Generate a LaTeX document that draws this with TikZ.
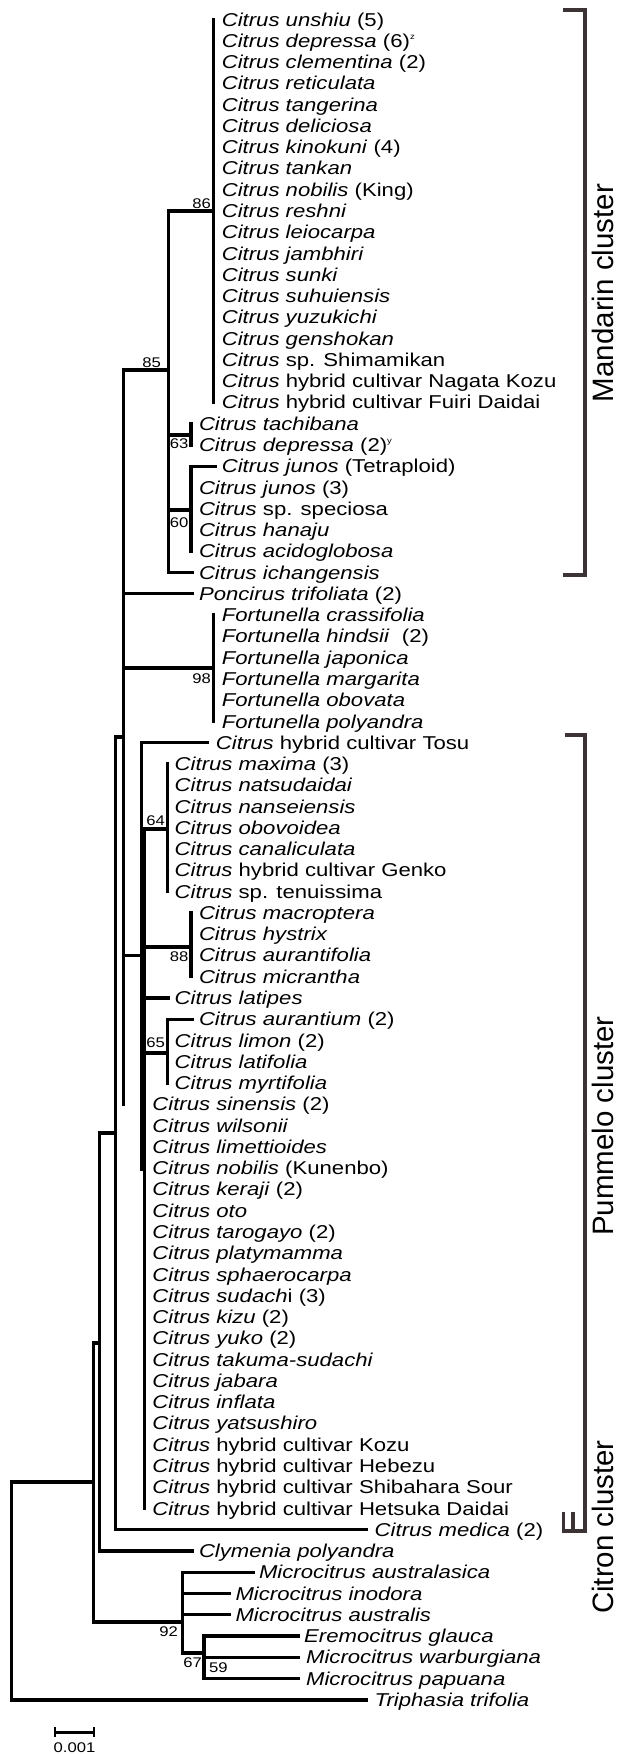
\documentclass[tikz,border=0pt]{standalone}
\usepackage{fontspec}
\setmainfont{Liberation Sans}[FakeStretch=1.19]
\newfontfamily\clusterfont{Liberation Sans}
\definecolor{brk}{RGB}{60,52,52}
\newcommand{\supx}[1]{\raisebox{8pt}{\fontsize{8}{8}\selectfont #1}}
\newcommand{\lf}[3]{\node[leaf] (l#1) at (#2,{26.1+21.27*(#1-1)}) {#3};}
\newcommand{\tp}[2]{\coordinate (t#1) at (#2,{19.5+21.27*(#1-1)});}
\tikzset{
  leaf/.style={anchor=base west, inner sep=0pt, font=\fontsize{18.6}{20}\selectfont},
  boot/.style={anchor=east, inner sep=0pt, font=\fontsize{14}{14}\selectfont},
  br/.style={line width=3.3pt, line cap=rect},
  bracket/.style={line width=3.4pt, draw=brk},
  cluster/.style={rotate=90, anchor=base, inner sep=0pt, font=\clusterfont\fontsize{29.5}{30}\selectfont}
}
\begin{document}
\begin{tikzpicture}[x=1pt,y=-1pt]
\useasboundingbox (0,0) rectangle (616,1754);
\foreach \i in {1,...,80} {\coordinate (r\i) at (0,{19.5+21.27*(\i-1)});}
% internal nodes
\coordinate (n86) at (213.7,210.9);
\coordinate (n85) at (168.6,370);
\coordinate (n63) at (191,435);
\coordinate (n60) at (191,510);
\coordinate (n98) at (213.7,668);
\coordinate (nD) at (123.5,737);
\coordinate (nA) at (141.2,955.5);
\coordinate (nB) at (144.5,1169);
\coordinate (n64) at (167.8,829);
\coordinate (n88) at (191,947);
\coordinate (n65) at (167.8,1053);
\coordinate (nH) at (115.7,1133);
\coordinate (nG) at (99.5,1343);
\coordinate (nF) at (93.5,1482);
\coordinate (nM) at (182.4,1622);
\coordinate (n67) at (204,1653);
\coordinate (n59) at (204,1668);
\coordinate (nR) at (11.8,1591);
% tips
\tp{22}{214.9}\tp{27}{192.2}\tp{28}{192.2}\tp{35}{207.8}\tp{47}{168.6}\tp{48}{192.2}
\tp{72}{366.7}\tp{73}{192.2}\tp{74}{253}\tp{75}{229.4}\tp{76}{229.4}
\tp{77}{298}\tp{78}{298}\tp{79}{298}\tp{80}{366.7}
% branches
\draw[br] (n86 |- r1) -- (n86 |- r19);
\draw[br] (n85 |- n86) -- (n86);
\draw[br] (n85 |- n86) -- (n85 |- r27);
\draw[br] (nD |- n85) -- (n85);
\draw[br] (n63 |- r20) -- (n63 |- r21);
\draw[br] (n85 |- n63) -- (n63);
\draw[br] (n60 |- r22) -- (n60 |- r26);
\draw[br] (n85 |- n60) -- (n60);
\draw[br] (n60 |- t22) -- (t22);
\draw[br] (n85 |- t27) -- (t27);
\draw[br] (nD |- n85) -- (nD |- r52);
\draw[br] (nH |- nD) -- (nD);
\draw[br] (nD |- t28) -- (t28);
\draw[br] (n98 |- r29) -- (n98 |- r34);
\draw[br] (nD |- n98) -- (n98);
\draw[br] (nA |- t35) -- (nA |- nB);
\draw[br] (nD |- nA) -- (nA);
\draw[br] (nA |- t35) -- (t35);
\draw[br] (nB |- n64) -- (nB |- r71);
\draw[br] (nA |- nB) -- (nB);
\draw[br] (n64 |- r36) -- (n64 |- r42);
\draw[br] (nB |- n64) -- (n64);
\draw[br] (n88 |- r43) -- (n88 |- r46);
\draw[br] (nB |- n88) -- (n88);
\draw[br] (nB |- t47) -- (t47);
\draw[br] (n65 |- r48) -- (n65 |- r51);
\draw[br] (nB |- n65) -- (n65);
\draw[br] (n65 |- t48) -- (t48);
\draw[br] (nH |- nD) -- (nH |- t72);
\draw[br] (nG |- nH) -- (nH);
\draw[br] (nH |- t72) -- (t72);
\draw[br] (nG |- nH) -- (nG |- t73);
\draw[br] (nF |- nG) -- (nG);
\draw[br] (nG |- t73) -- (t73);
\draw[br] (nF |- nG) -- (nF |- nM);
\draw[br] (nR |- nF) -- (nF);
\draw[br] (nM |- t74) -- (nM |- n67);
\draw[br] (nF |- nM) -- (nM);
\draw[br] (nM |- t74) -- (t74);
\draw[br] (nM |- t75) -- (t75);
\draw[br] (nM |- t76) -- (t76);
\draw[br] (n67 |- t77) -- (n67 |- t79);
\draw[br] (nM |- n67) -- (n67);
\draw[br] (n67 |- t77) -- (t77);
\draw[br] (n59 |- t78) -- (t78);
\draw[br] (n59 |- t79) -- (t79);
\draw[br] (nR |- nF) -- (nR |- t80);
\draw[br] (nR |- t80) -- (t80);
% bootstrap
\node[boot] (b86) at (211,204) {86};
\node[boot] (b85) at (161,363) {85};
\node[boot] (b63) at (188.5,444) {63};
\node[boot] (b60) at (188.5,522.7) {60};
\node[boot] (b98) at (211,679) {98};
\node[boot] (b64) at (165,821) {64};
\node[boot] (b88) at (188.5,956.7) {88};
\node[boot] (b65) at (165,1043) {65};
\node[boot] (b92) at (178,1632) {92};
\node[boot] (b67) at (202,1663) {67};
\node[boot,anchor=west] (b59) at (209,1668) {59};
% leaves
\lf{1}{221.6}{\textit{Citrus unshiu} (5)}
\lf{2}{221.6}{\textit{Citrus depressa} (6)\supx{z}}
\lf{3}{221.6}{\textit{Citrus clementina} (2)}
\lf{4}{221.6}{\textit{Citrus reticulata}}
\lf{5}{221.6}{\textit{Citrus tangerina}}
\lf{6}{221.6}{\textit{Citrus deliciosa}}
\lf{7}{221.6}{\textit{Citrus kinokuni} (4)}
\lf{8}{221.6}{\textit{Citrus tankan}}
\lf{9}{221.6}{\textit{Citrus nobilis} (King)}
\lf{10}{221.6}{\textit{Citrus reshni}}
\lf{11}{221.6}{\textit{Citrus leiocarpa}}
\lf{12}{221.6}{\textit{Citrus jambhiri}}
\lf{13}{221.6}{\textit{Citrus sunki}}
\lf{14}{221.6}{\textit{Citrus suhuiensis}}
\lf{15}{221.6}{\textit{Citrus yuzukichi}}
\lf{16}{221.6}{\textit{Citrus genshokan}}
\lf{17}{221.6}{\textit{Citrus} sp. Shimamikan}
\lf{18}{221.6}{\textit{Citrus} hybrid cultivar Nagata Kozu}
\lf{19}{221.6}{\textit{Citrus} hybrid cultivar Fuiri Daidai}
\lf{20}{198.8}{\textit{Citrus tachibana}}
\lf{21}{198.8}{\textit{Citrus depressa} (2)\supx{y}}
\lf{22}{221.6}{\textit{Citrus junos} (Tetraploid)}
\lf{23}{198.8}{\textit{Citrus junos} (3)}
\lf{24}{198.8}{\textit{Citrus} sp. speciosa}
\lf{25}{198.8}{\textit{Citrus hanaju}}
\lf{26}{198.8}{\textit{Citrus acidoglobosa}}
\lf{27}{198.8}{\textit{Citrus ichangensis}}
\lf{28}{198.8}{\textit{Poncirus trifoliata} (2)}
\lf{29}{221.6}{\textit{Fortunella crassifolia}}
\lf{30}{221.6}{\textit{Fortunella hindsii}\ \ (2)}
\lf{31}{221.6}{\textit{Fortunella japonica}}
\lf{32}{221.6}{\textit{Fortunella margarita}}
\lf{33}{221.6}{\textit{Fortunella obovata}}
\lf{34}{221.6}{\textit{Fortunella polyandra}}
\lf{35}{215.7}{\textit{Citrus} hybrid cultivar Tosu}
\lf{36}{174.5}{\textit{Citrus maxima} (3)}
\lf{37}{174.5}{\textit{Citrus natsudaidai}}
\lf{38}{174.5}{\textit{Citrus nanseiensis}}
\lf{39}{174.5}{\textit{Citrus obovoidea}}
\lf{40}{174.5}{\textit{Citrus canaliculata}}
\lf{41}{174.5}{\textit{Citrus} hybrid cultivar Genko}
\lf{42}{174.5}{\textit{Citrus} sp. tenuissima}
\lf{43}{198.8}{\textit{Citrus macroptera}}
\lf{44}{198.8}{\textit{Citrus hystrix}}
\lf{45}{198.8}{\textit{Citrus aurantifolia}}
\lf{46}{198.8}{\textit{Citrus micrantha}}
\lf{47}{174.5}{\textit{Citrus latipes}}
\lf{48}{198.8}{\textit{Citrus aurantium} (2)}
\lf{49}{174.5}{\textit{Citrus limon} (2)}
\lf{50}{174.5}{\textit{Citrus latifolia}}
\lf{51}{174.5}{\textit{Citrus myrtifolia}}
\lf{52}{152.2}{\textit{Citrus sinensis} (2)}
\lf{53}{152.2}{\textit{Citrus wilsonii}}
\lf{54}{152.2}{\textit{Citrus limettioides}}
\lf{55}{152.2}{\textit{Citrus nobilis} (Kunenbo)}
\lf{56}{152.2}{\textit{Citrus keraji} (2)}
\lf{57}{152.2}{\textit{Citrus oto}}
\lf{58}{152.2}{\textit{Citrus tarogayo} (2)}
\lf{59}{152.2}{\textit{Citrus platymamma}}
\lf{60}{152.2}{\textit{Citrus sphaerocarpa}}
\lf{61}{152.2}{\textit{Citrus sudach}i (3)}
\lf{62}{152.2}{\textit{Citrus kizu} (2)}
\lf{63}{152.2}{\textit{Citrus yuko} (2)}
\lf{64}{152.2}{\textit{Citrus takuma-sudachi}}
\lf{65}{152.2}{\textit{Citrus jabara}}
\lf{66}{152.2}{\textit{Citrus inflata}}
\lf{67}{152.2}{\textit{Citrus yatsushiro}}
\lf{68}{152.2}{\textit{Citrus} hybrid cultivar Kozu}
\lf{69}{152.2}{\textit{Citrus} hybrid cultivar Hebezu}
\lf{70}{152.2}{\textit{Citrus} hybrid cultivar Shibahara Sour}
\lf{71}{152.2}{\textit{Citrus} hybrid cultivar Hetsuka Daidai}
\lf{72}{374.5}{\textit{Citrus medica} (2)}
\lf{73}{198.8}{\textit{Clymenia polyandra}}
\lf{74}{258.8}{\textit{Microcitrus australasica}}
\lf{75}{235.3}{\textit{Microcitrus inodora}}
\lf{76}{235.3}{\textit{Microcitrus australis}}
\lf{77}{304}{\textit{Eremocitrus glauca}}
\lf{78}{305.9}{\textit{Microcitrus warburgiana}}
\lf{79}{305.9}{\textit{Microcitrus papuana}}
\lf{80}{374.5}{\textit{Triphasia trifolia}}
% brackets
\draw[bracket] (563,10) -- (585,10) -- (585,575) -- (563,575);
\draw[bracket] (565,735) -- (585,735) -- (585,1531) -- (562,1531);
\draw[bracket] (563.5,1512) -- (563.5,1531);
\draw[bracket] (573,1512) -- (573,1531);
\node[cluster] (cMand) at (613,293) {Mandarin cluster};
\node[cluster] (cPumm) at (613,1126) {Pummelo cluster};
\node[cluster] (cCitr) at (613,1527) {Citron cluster};
% scale bar
\coordinate (s1) at (55,1732);
\coordinate (s2) at (94,1732);
\draw[line width=3pt] (s1) -- (s2);
\draw[line width=2pt] ([yshift=5pt]s1) -- ([yshift=-5pt]s1);
\draw[line width=2pt] ([yshift=5pt]s2) -- ([yshift=-5pt]s2);
\node[inner sep=0pt, anchor=base, font=\fontsize{14}{14}\selectfont] (sl) at (74.5,1752) {0.001};
\end{tikzpicture}
\end{document}
